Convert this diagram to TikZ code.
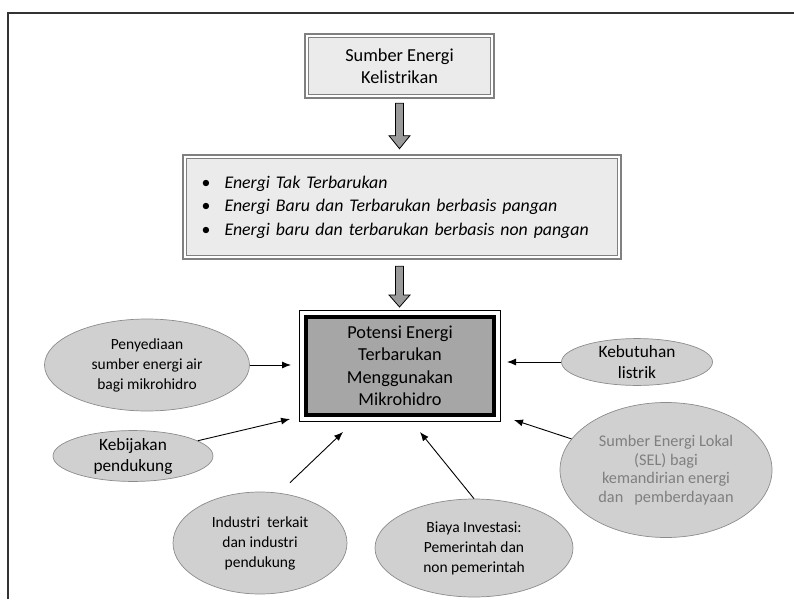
\documentclass[tikz,border=0pt]{standalone}
\usepackage{fontspec}
\setmainfont{Carlito}
\usetikzlibrary{arrows.meta,calc,shapes.geometric}
\definecolor{boxfill}{HTML}{EBEBEB}
\definecolor{boxline}{HTML}{808080}
\definecolor{corefill}{HTML}{A6A6A6}
\definecolor{ellfill}{HTML}{D0D0D0}
\definecolor{ellline}{HTML}{8C8C8C}
\definecolor{softtext}{HTML}{7F7F7F}
\definecolor{arrowfill}{HTML}{9A9A9A}
\begin{document}
\begin{tikzpicture}[x=1pt,y=-1pt,
  lightbox/.style={draw=boxline, line width=0.6pt, fill=boxfill, inner sep=0pt,
    font=\fontsize{18.3}{22.5}\selectfont},
  rim/.style={draw=boxline, line width=2pt},
  core/.style={draw=black, line width=4pt, fill=corefill, minimum width=188pt,
    minimum height=98pt, align=center, inner sep=0pt,
    font=\fontsize{18.3}{22.5}\selectfont},
  corerim/.style={draw=black, line width=0.8pt},
  factor/.style={ellipse, draw=ellline, line width=0.7pt, fill=ellfill,
    inner sep=0pt, align=center, font=\fontsize{15.5}{20}\selectfont},
  bigfactor/.style={factor, font=\fontsize{17.3}{21}\selectfont},
  conn/.style={draw=black, line width=0.9pt, -{Latex[length=9pt,width=7pt]}},
  blockarrow/.style={draw=black, line width=0.8pt, fill=arrowfill},
  pageframe/.style={draw=black!80, line width=1.3pt}]
\useasboundingbox (0,0) rectangle (794,599);

% page frame (top and left edges)
\draw[pageframe] (8,599) -- (8,13) -- (794,13);

% source box
\node[lightbox, minimum width=182pt, minimum height=57pt, align=center] (top) at (399.5,66)
  {Sumber Energi\\Kelistrikan};
\draw[rim] ($(top.north west)+(-3.5,-3.5)$) rectangle ($(top.south east)+(3.5,3.5)$);

% energy categories
\node[lightbox, text width=431pt, minimum height=97pt, align=left,
      font=\fontsize{17.8}{23.5}\selectfont] (mid) at (402,207)
  {\hspace*{15pt}\makebox[23pt][l]{\textbullet}\textit{Energi Tak Terbarukan}\\
   \hspace*{15pt}\makebox[23pt][l]{\textbullet}\textit{Energi Baru dan Terbarukan berbasis pangan}\\
   \hspace*{15pt}\makebox[23pt][l]{\textbullet}\textit{Energi baru dan terbarukan berbasis non pangan}};
\draw[rim] ($(mid.north west)+(-3.5,-3.5)$) rectangle ($(mid.south east)+(3.5,3.5)$);

% central box
\node[core] (main) at (400,366) {Potensi Energi\\Terbarukan\\Menggunakan\\Mikrohidro};
\draw[corerim] ($(main.north west)+(-4.5,-4.5)$) rectangle ($(main.south east)+(4.5,4.5)$);

% block arrows
\draw[blockarrow] let \p1=($(top.south)+(0,8.5)$), \p2=($(mid.north)+(0,-9.5)$) in
  (\x1-4pt,\y1) -- (\x1+4pt,\y1) -- (\x1+4pt,\y2+13pt) -- (\x1+10.5pt,\y2+13pt)
  -- (\x1,\y2) -- (\x1-10.5pt,\y2+13pt) -- (\x1-4pt,\y2+13pt) -- cycle;
\draw[blockarrow] let \p1=($(mid.south)+(-2.5,10.5)$), \p2=($(main.north)+(0,-8)$) in
  (\x1-4pt,\y1) -- (\x1+4pt,\y1) -- (\x1+4pt,\y2+12pt) -- (\x1+10.5pt,\y2+12pt)
  -- (\x1,\y2) -- (\x1-10.5pt,\y2+12pt) -- (\x1-4pt,\y2+12pt) -- cycle;

% influencing factors
\node[factor, minimum width=205pt, minimum height=92pt] (pen) at (147,365)
  {Penyediaan\\sumber energi air\\bagi mikrohidro};
\node[bigfactor, minimum width=160pt, minimum height=50pt] (keb) at (133,456)
  {Kebijakan\\pendukung};
\node[factor, minimum width=174pt, minimum height=102pt] (ind) at (260,543)
  {Industri~ terkait\\dan industri\\pendukung};
\node[factor, minimum width=198pt, minimum height=98pt] (bia) at (474,548)
  {Biaya Investasi:\\Pemerintah dan\\non pemerintah};
\node[bigfactor, minimum width=151pt, minimum height=46pt] (kbt) at (637,362)
  {Kebutuhan\\listrik};
\node[factor, minimum width=212pt, minimum height=135pt, text=softtext,
      font=\fontsize{16.3}{18.5}\selectfont] (sel) at (666,470)
  {Sumber Energi Lokal\\(SEL) bagi\\kemandirian energi\\dan~~ pemberdayaan};

% connectors into the central box
\draw[conn, shorten >=13pt] (pen.east) -- (pen.east -| main.west);
\draw[conn] (keb) -- ($(main.south west)+(-14,2)$);
\draw[conn] ($(ind.north)+(30,-9)$) -- ($(main.south west)+(39,15)$);
\draw[conn] (bia.north) -- ($(main.south)+(20,15)$);
\draw[conn, shorten >=11pt] (kbt.west) -- (kbt.west -| main.east);
\draw[conn] (sel) -- ($(main.south east)+(18,3)$);
\end{tikzpicture}
\end{document}
